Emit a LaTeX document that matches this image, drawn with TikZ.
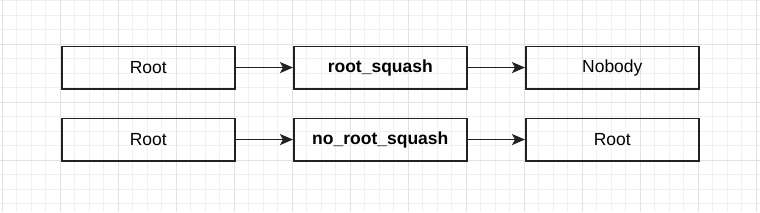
\documentclass[tikz,border=0pt]{standalone}
\usepackage{fontspec}
\setmainfont{Liberation Sans}
\usetikzlibrary{arrows.meta}
\definecolor{gridminor}{HTML}{F0F0F0}
\definecolor{gridmajor}{HTML}{E2E2E2}
\definecolor{stroke}{HTML}{222222}
\begin{document}
\begin{tikzpicture}[x=1pt,y=-1pt,
  box/.style={draw=stroke, line width=1.6pt, minimum width=173pt, minimum height=42.5pt, inner sep=0pt, font=\fontsize{17.5}{20}\selectfont, anchor=north west},
  conn/.style={draw=stroke, line width=1.5pt, -{Stealth[length=13pt,width=11pt,inset=3pt]}}]
\useasboundingbox (0,0) rectangle (760,212);
\fill[white] (0,0) rectangle (760,212);
% minor grid
\foreach \i in {-4,...,48} {
  \draw[gridminor, line width=0.8pt] ({60+14.5*\i},0) -- ({60+14.5*\i},212);
}
\foreach \j in {-3,...,12} {
  \draw[gridminor, line width=0.8pt] (0,{44+14.5*\j}) -- (760,{44+14.5*\j});
}
% major grid
\foreach \i in {-1,...,12} {
  \draw[gridmajor, line width=0.8pt] ({60+58*\i},0) -- ({60+58*\i},212);
}
\foreach \j in {-1,...,3} {
  \draw[gridmajor, line width=0.8pt] (0,{44+58*\j}) -- (760,{44+58*\j});
}
\node[box] (r1) at (61,45.5) {Root};
\node[box] (s1) at (293,45.5) {\textbf{root\_squash}};
\node[box] (n1) at (525,45.5) {Nobody};
\node[box] (r2) at (61,117.5) {Root};
\node[box] (s2) at (293,117.5) {\textbf{no\_root\_squash}};
\node[box] (n2) at (525,117.5) {Root};
\draw[conn] (r1) -- (s1);
\draw[conn] (s1) -- (n1);
\draw[conn] (r2) -- (s2);
\draw[conn] (s2) -- (n2);
\end{tikzpicture}
\end{document}
